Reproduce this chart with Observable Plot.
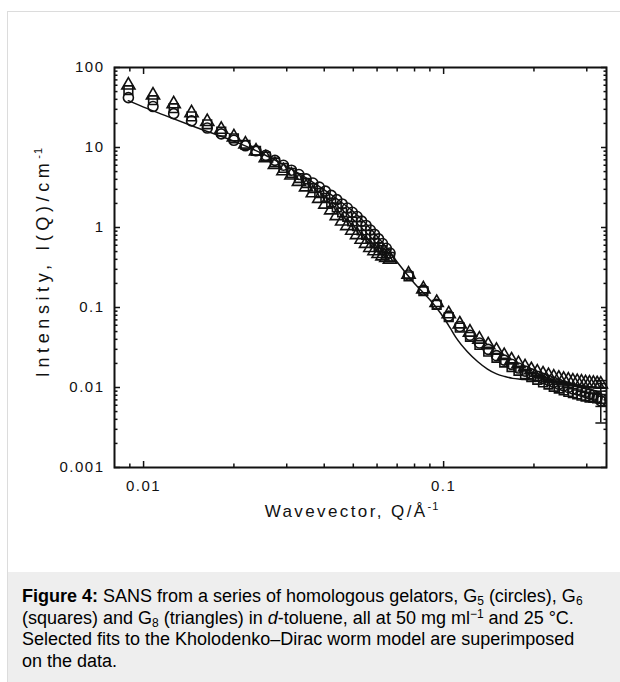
<!DOCTYPE html>
<html><head><meta charset="utf-8">
<script src="https://cdn.jsdelivr.net/npm/d3@7"></script>
<script src="https://cdn.jsdelivr.net/npm/@observablehq/plot@0.6"></script>
<style>
html,body{margin:0;padding:0;background:#fff;}
body{position:relative;width:620px;height:682px;overflow:hidden;font-family:"Liberation Sans",Arial,sans-serif;}
#box{position:absolute;left:7px;top:11px;width:700px;height:700px;border:1px solid #dcdcdc;box-sizing:border-box;}
#chart{position:absolute;left:0;top:0;}
#caption{position:absolute;left:8px;top:572px;width:612px;height:110px;background:#eeeeee;box-sizing:border-box;padding:14px 0 0 14px;font-size:18px;line-height:21.5px;color:#000;white-space:nowrap;}
#caption sub{font-size:12px;line-height:0;vertical-align:-3px;}
#caption sup{font-size:12px;line-height:0;vertical-align:6px;}
.ax{position:absolute;font-size:17px;color:#111;white-space:nowrap;line-height:20px;}
.ax sup{font-size:11px;letter-spacing:1px;line-height:0;vertical-align:7px;}
#xt{left:352px;top:502px;transform:translateX(-50%);letter-spacing:2.4px;}
#yt{left:43px;top:262px;transform:translate(-50%,-50%) rotate(-90deg);font-size:18px;letter-spacing:4.6px;}
#chart g[aria-label$="tick label"] text{letter-spacing:1.5px;}
</style></head>
<body>
<div id="box"></div>
<div id="chart"></div>
<div class="ax" id="xt">Wavevector, Q/Å<sup>-1</sup></div>
<div class="ax" id="yt">Intensity, I(Q)/cm<sup>-1</sup></div>
<div id="caption"><b>Figure 4:</b> SANS from a series of homologous gelators, G<sub>5</sub> (circles), G<sub>6</sub><br>(squares) and G<sub>8</sub> (triangles) in <i>d</i>-toluene, all at 50 mg ml<sup>−1</sup> and 25 °C.<br>Selected fits to the Kholodenko–Dirac worm model are superimposed<br>on the data.</div>
<script>
// Wavevector Q (1/Å)
const q = [0.0089, 0.01075, 0.0126, 0.01445, 0.0163, 0.01815, 0.0200, 0.02185, 0.0237, 0.02555, 0.0274, 0.02925, 0.0311, 0.03295, 0.0348, 0.03665, 0.0385, 0.04035, 0.0422, 0.04405, 0.0459, 0.04775, 0.0496, 0.05145, 0.0533, 0.05515, 0.0570, 0.05885, 0.0607, 0.06255, 0.0644, 0.06625,
  0.0764, 0.0856, 0.0948, 0.1040, 0.1132, 0.1224, 0.1316, 0.1408, 0.1500, 0.1592, 0.1684, 0.1776, 0.1868, 0.1960, 0.2052, 0.2144, 0.2236, 0.2328, 0.2420, 0.2512, 0.2604, 0.2696, 0.2788, 0.2880, 0.2972, 0.3064, 0.3156, 0.3248, 0.3340];
// G5 (circles)
const g5 = [42, 32.5, 26.5, 21.5, 17.5, 14.8, 12.3, 10.5, 9.1, 8.0, 6.9, 6.0, 5.2, 4.6, 4.05, 3.6, 3.2, 2.85, 2.52, 2.23, 1.97, 1.75, 1.55, 1.37, 1.2, 1.06, 0.93, 0.82, 0.72, 0.63, 0.55, 0.48,
  0.255, 0.165, 0.11, 0.078, 0.058, 0.045, 0.036, 0.030, 0.025, 0.022, 0.0195, 0.0175, 0.016, 0.0148, 0.0138, 0.013, 0.0123, 0.0116, 0.011, 0.0105, 0.0100, 0.0096, 0.0093, 0.0090, 0.0087, 0.0083, 0.0080, 0.0075, 0.0068];
// G6 (squares)
const g6 = [52, 39, 31, 24.5, 19.5, 15.8, 13, 10.8, 9.1, 7.7, 6.5, 5.55, 4.8, 4.15, 3.6, 3.1, 2.7, 2.35, 2.05, 1.78, 1.55, 1.36, 1.19, 1.04, 0.92, 0.81, 0.72, 0.64, 0.57, 0.52, 0.47, 0.43,
  0.245, 0.16, 0.108, 0.076, 0.056, 0.043, 0.034, 0.028, 0.0235, 0.0205, 0.018, 0.0162, 0.0147, 0.0135, 0.0125, 0.0116, 0.0109, 0.0102, 0.0097, 0.0092, 0.0088, 0.0085, 0.0082, 0.0079, 0.0077, 0.0075, 0.0074, 0.0073, 0.0072];
// G8 (triangles)
const g8 = [60, 45, 35, 27, 21, 16.8, 13.5, 11, 9.0, 7.4, 6.1, 5.1, 4.5, 3.75, 3.2, 2.7, 2.3, 1.95, 1.65, 1.4, 1.2, 1.05, 0.92, 0.81, 0.71, 0.63, 0.56, 0.51, 0.47, 0.44, 0.42, 0.40,
  0.26, 0.17, 0.115, 0.083, 0.062, 0.049, 0.040, 0.034, 0.029, 0.025, 0.022, 0.0198, 0.018, 0.0166, 0.0155, 0.0147, 0.014, 0.0134, 0.013, 0.0126, 0.0123, 0.012, 0.0118, 0.0116, 0.0114, 0.0113, 0.0112, 0.0111, 0.011];
// Kholodenko–Dirac worm fit
const fitQ = [0.0089, 0.010, 0.012, 0.015, 0.020, 0.025, 0.030, 0.035, 0.040, 0.045, 0.050, 0.055, 0.060, 0.065, 0.070, 0.080, 0.090, 0.100, 0.105, 0.110, 0.120, 0.130, 0.140, 0.150, 0.160, 0.170, 0.180, 0.190, 0.200, 0.220, 0.250, 0.280, 0.310, 0.334];
const fitI = [38.5, 32, 24.5, 17.8, 12.0, 8.3, 5.8, 4.1, 2.95, 2.15, 1.58, 1.12, 0.78, 0.54, 0.37, 0.2, 0.125, 0.075, 0.056, 0.042, 0.028, 0.021, 0.017, 0.0148, 0.0137, 0.013, 0.0127, 0.0125, 0.0123, 0.0118, 0.011, 0.0101, 0.0093, 0.0087];
// error bars on the last points
const errQ = [0.334, 0.334, 0.334];
const errLo = [0.0036, 0.0058, 0.0098];
const errHi = [0.0112, 0.0090, 0.0122];
// ticks
const xMajor = [0.01, 0.1];
const xTickLabels = ["0.01", "0.1"];
const xMinor = [0.009, 0.02, 0.03, 0.04, 0.05, 0.06, 0.07, 0.08, 0.09, 0.2, 0.3];
const yMajor = [0.001, 0.01, 0.1, 1, 10, 100];
const yTickLabels = ["0.001", "0.01", "0.1", "1", "10", "100"];
const yMinor = [0.002, 0.003, 0.004, 0.005, 0.006, 0.007, 0.008, 0.009,
  0.02, 0.03, 0.04, 0.05, 0.06, 0.07, 0.08, 0.09,
  0.2, 0.3, 0.4, 0.5, 0.6, 0.7, 0.8, 0.9,
  2, 3, 4, 5, 6, 7, 8, 9,
  20, 30, 40, 50, 60, 70, 80, 90];

const ink = "#111";
const capSymbol = {draw(ctx, size) { const w = Math.sqrt(size / Math.PI) * 1.2; ctx.moveTo(-w, 0); ctx.lineTo(w, 0); }};
const tickOpts = {fill: "none", label: null, stroke: ink, strokeWidth: 1.5};

const chart = Plot.plot({
  width: 620, height: 572,
  marginLeft: 114, marginRight: 14, marginTop: 67, marginBottom: 105,
  style: {background: "transparent", fontFamily: "'Liberation Sans', Arial, sans-serif", fontSize: "15px", color: ink},
  x: {type: "log", domain: [0.008, 0.349]},
  y: {type: "log", domain: [0.001, 100]},
  marks: [
    Plot.axisX({anchor: "bottom", ticks: xMajor, tickSize: 0, tickPadding: 13, tickFormat: d => xTickLabels[xMajor.indexOf(d)], label: null, fill: ink}),
    Plot.axisY({anchor: "left", ticks: yMajor, tickSize: 0, tickPadding: 10, tickFormat: d => yTickLabels[yMajor.indexOf(d)], label: null, fill: ink}),
    Plot.axisX({anchor: "bottom", ticks: xMajor, tickSize: -6, ...tickOpts}),
    Plot.axisX({anchor: "bottom", ticks: xMinor, tickSize: -3.5, ...tickOpts}),
    Plot.axisX({anchor: "top", ticks: xMajor, tickSize: -6, ...tickOpts}),
    Plot.axisX({anchor: "top", ticks: xMinor, tickSize: -3.5, ...tickOpts}),
    Plot.axisY({anchor: "left", ticks: yMajor, tickSize: -6, ...tickOpts}),
    Plot.axisY({anchor: "left", ticks: yMinor, tickSize: -3.5, ...tickOpts}),
    Plot.axisY({anchor: "right", ticks: yMajor, tickSize: -6, ...tickOpts}),
    Plot.axisY({anchor: "right", ticks: yMinor, tickSize: -3.5, ...tickOpts}),
    Plot.line(fitQ, {x: fitQ, y: fitI, stroke: ink, strokeWidth: 1.5, curve: "monotone-x"}),
    Plot.ruleX(errQ, {x: errQ, y1: errLo, y2: errHi, stroke: ink, strokeWidth: 1.5}),
    Plot.dot(errQ, {x: errQ, y: errLo, symbol: capSymbol, r: 4.5, stroke: ink, strokeWidth: 1.5}),
    Plot.dot(errQ, {x: errQ, y: errHi, symbol: capSymbol, r: 4.5, stroke: ink, strokeWidth: 1.5}),
    Plot.dot(q, {x: q, y: g5, symbol: "circle", r: 5, fill: "none", stroke: ink, strokeWidth: 1.6}),
    Plot.dot(q, {x: q, y: g6, symbol: "square", r: 4.9, fill: "none", stroke: ink, strokeWidth: 1.6}),
    Plot.dot(q, {x: q, y: g8, symbol: "triangle", r: 4.9, fill: "none", stroke: ink, strokeWidth: 1.6}),
    Plot.frame({stroke: ink, strokeWidth: 2})
  ]
});
document.getElementById("chart").appendChild(chart);
</script>
</body></html>
